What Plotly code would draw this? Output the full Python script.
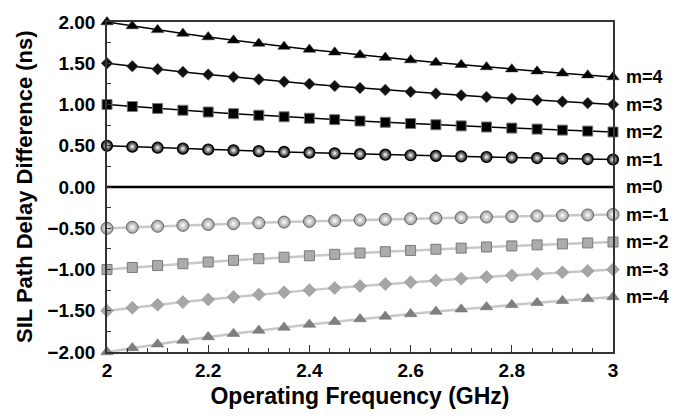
import plotly.graph_objects as go

freq = [2.00, 2.05, 2.10, 2.15, 2.20, 2.25, 2.30, 2.35, 2.40, 2.45, 2.50,
        2.55, 2.60, 2.65, 2.70, 2.75, 2.80, 2.85, 2.90, 2.95, 3.00]

m4 = [2.0, 1.9512, 1.9048, 1.8605, 1.8182, 1.7778, 1.7391, 1.7021, 1.6667, 1.6327, 1.6,
      1.5686, 1.5385, 1.5094, 1.4815, 1.4545, 1.4286, 1.4035, 1.3793, 1.3559, 1.3333]
m3 = [1.5, 1.4634, 1.4286, 1.3953, 1.3636, 1.3333, 1.3043, 1.2766, 1.25, 1.2245, 1.2,
      1.1765, 1.1538, 1.1321, 1.1111, 1.0909, 1.0714, 1.0526, 1.0345, 1.0169, 1.0]
m2 = [1.0, 0.9756, 0.9524, 0.9302, 0.9091, 0.8889, 0.8696, 0.8511, 0.8333, 0.8163, 0.8,
      0.7843, 0.7692, 0.7547, 0.7407, 0.7273, 0.7143, 0.7018, 0.6897, 0.6780, 0.6667]
m1 = [0.5, 0.4878, 0.4762, 0.4651, 0.4545, 0.4444, 0.4348, 0.4255, 0.4167, 0.4082, 0.4,
      0.3922, 0.3846, 0.3774, 0.3704, 0.3636, 0.3571, 0.3509, 0.3448, 0.3390, 0.3333]
m0 = [0.0, 0.0, 0.0, 0.0, 0.0, 0.0, 0.0, 0.0, 0.0, 0.0, 0.0,
      0.0, 0.0, 0.0, 0.0, 0.0, 0.0, 0.0, 0.0, 0.0, 0.0]
mn1 = [-0.5, -0.4878, -0.4762, -0.4651, -0.4545, -0.4444, -0.4348, -0.4255, -0.4167, -0.4082, -0.4,
       -0.3922, -0.3846, -0.3774, -0.3704, -0.3636, -0.3571, -0.3509, -0.3448, -0.3390, -0.3333]
mn2 = [-1.0, -0.9756, -0.9524, -0.9302, -0.9091, -0.8889, -0.8696, -0.8511, -0.8333, -0.8163, -0.8,
       -0.7843, -0.7692, -0.7547, -0.7407, -0.7273, -0.7143, -0.7018, -0.6897, -0.6780, -0.6667]
mn3 = [-1.5, -1.4634, -1.4286, -1.3953, -1.3636, -1.3333, -1.3043, -1.2766, -1.25, -1.2245, -1.2,
       -1.1765, -1.1538, -1.1321, -1.1111, -1.0909, -1.0714, -1.0526, -1.0345, -1.0169, -1.0]
mn4 = [-2.0, -1.9512, -1.9048, -1.8605, -1.8182, -1.7778, -1.7391, -1.7021, -1.6667, -1.6327, -1.6,
       -1.5686, -1.5385, -1.5094, -1.4815, -1.4545, -1.4286, -1.4035, -1.3793, -1.3559, -1.3333]

series_labels = ["m=4", "m=3", "m=2", "m=1", "m=0", "m=-1", "m=-2", "m=-3", "m=-4"]
series_values = [m4, m3, m2, m1, m0, mn1, mn2, mn3, mn4]

x_tickvals = [2, 2.2, 2.4, 2.6, 2.8, 3]
x_ticktext = ["2", "2.2", "2.4", "2.6", "2.8", "3"]

FONT = "Liberation Sans, Arial, sans-serif"

styles = [
    dict(line=dict(color="#000000", width=1.5),
         marker=dict(symbol="triangle-up", size=11, color="#000000", line=dict(color="#333333", width=0.5))),
    dict(line=dict(color="#000000", width=1.5),
         marker=dict(symbol="diamond", size=9, color="#111111", line=dict(color="#555555", width=0.5))),
    dict(line=dict(color="#000000", width=1.5),
         marker=dict(symbol="square", size=10, color="#000000", line=dict(color="#777777", width=1))),
    dict(line=dict(color="#000000", width=1.5),
         marker=dict(symbol="circle", size=11, color="#000000",
                     gradient=dict(type="radial", color="#ffffff"),
                     line=dict(color="#000000", width=1.2))),
    dict(line=dict(color="#000000", width=2.5), marker=dict(size=1, opacity=0)),
    dict(line=dict(color="#c8c8c8", width=2.5),
         marker=dict(symbol="circle", size=12, color="#9a9a9a",
                     gradient=dict(type="radial", color="#ffffff"),
                     line=dict(color="#666666", width=1))),
    dict(line=dict(color="#c8c8c8", width=2.5),
         marker=dict(symbol="square", size=10, color="#ababab", line=dict(color="#7a7a7a", width=1))),
    dict(line=dict(color="#c8c8c8", width=2.5),
         marker=dict(symbol="diamond", size=10, color="#a6a6a6", line=dict(color="#8a8a8a", width=0.5))),
    dict(line=dict(color="#c8c8c8", width=2.5),
         marker=dict(symbol="triangle-up", size=11, color="#7f7f7f", line=dict(color="#666666", width=0.5))),
]

fig = go.Figure()
for name, vals, st in zip(series_labels, series_values, styles):
    mode = "lines" if name == "m=0" else "lines+markers"
    fig.add_trace(go.Scatter(x=freq, y=vals, mode=mode, name=name,
                             line=st["line"], marker=st["marker"],
                             cliponaxis=False, showlegend=False))
    fig.add_annotation(x=freq[-1], y=vals[-1], text="<b>" + name + "</b>", showarrow=False,
                       xanchor="left", yanchor="middle", xshift=11,
                       font=dict(family=FONT, size=18, color="#000000"))

fig.add_annotation(xref="paper", yref="paper", x=-0.164, y=0.5,
                   text="<b>SIL Path Delay Difference (ns)</b>", textangle=-90,
                   showarrow=False, xanchor="center", yanchor="middle",
                   font=dict(family=FONT, size=22, color="#000000"))

fig.update_layout(
    width=679, height=420,
    margin=dict(l=107, r=66, t=13, b=68),
    paper_bgcolor="white", plot_bgcolor="white",
    font=dict(family=FONT, color="#000000"),
    xaxis=dict(range=[2, 3], tickvals=x_tickvals, ticktext=["<b>" + t + "</b>" for t in x_ticktext],
               ticks="inside", ticklen=7, tickwidth=1.2, tickcolor="#333333",
               minor=dict(dtick=0.04, tick0=2, ticks="inside", ticklen=4, tickcolor="#333333"),
               showgrid=False, zeroline=False,
               showline=True, linecolor="#333333", linewidth=1.5, mirror=True,
               tickfont=dict(family=FONT, size=19, color="#000000"),
               title=dict(text="<b>Operating Frequency (GHz)</b>", standoff=8,
                          font=dict(family=FONT, size=23, color="#000000"))),
    yaxis=dict(range=[-2, 2], dtick=0.5, tick0=0, tickformat=".2f",
               tickprefix="<b>", ticksuffix="</b>",
               ticks="inside", ticklen=4, tickwidth=1.2, tickcolor="#333333",
               ticklabelstandoff=6,
               minor=dict(dtick=0.25, ticks="inside", ticklen=4, tickcolor="#333333"),
               showgrid=False, zeroline=False,
               showline=True, linecolor="#333333", linewidth=1.5, mirror=True,
               tickfont=dict(family=FONT, size=19, color="#000000")),
)

fig.write_html("out.html")
